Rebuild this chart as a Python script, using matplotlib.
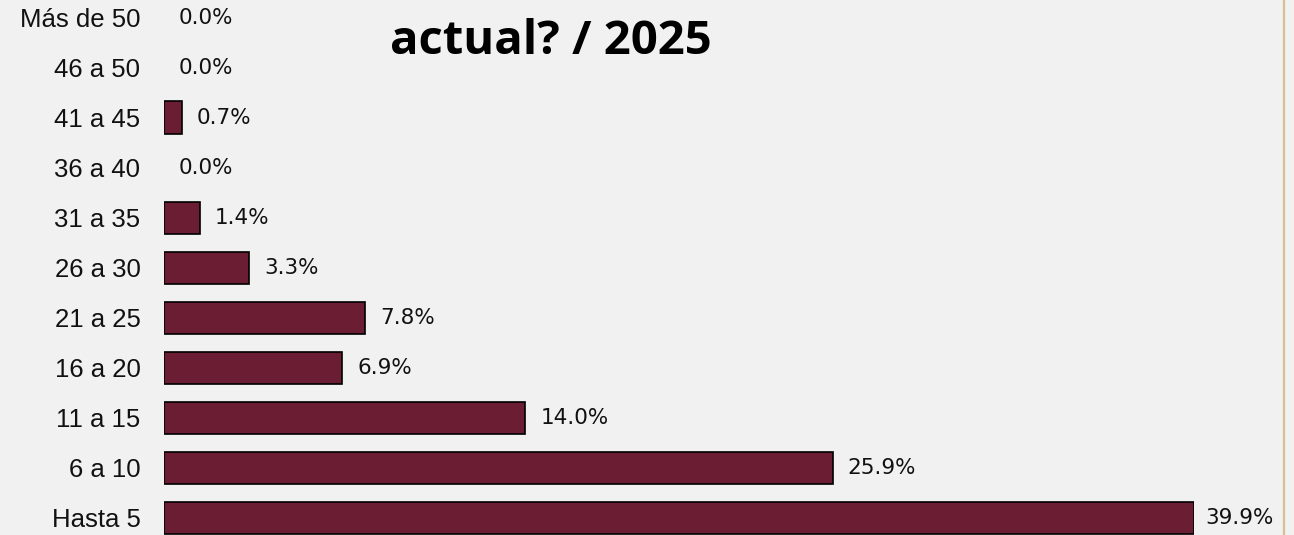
import matplotlib
matplotlib.use("Agg")
import matplotlib.pyplot as plt
from matplotlib.lines import Line2D
from matplotlib import font_manager as fm

categories = ["Hasta 5", "6 a 10", "11 a 15", "16 a 20", "21 a 25", "26 a 30",
              "31 a 35", "36 a 40", "41 a 45", "46 a 50", "Más de 50"]
values = [39.9, 25.9, 14.0, 6.9, 7.8, 3.3, 1.4, 0.0, 0.7, 0.0, 0.0]
title_text = "actual? / 2025"

val_fp = fm.FontProperties(family="DejaVu Sans", size=15.5)
title_fp = fm.FontProperties(family="Open Sans", size=34, weight="bold")

W, H = 1294, 535
fig = plt.figure(figsize=(W / 100, H / 100), dpi=100)
bg = "#f1f1f1"
fig.patch.set_facecolor(bg)

ax_left, ax_width = 164, 1030
row_h = 50
top_center = 17.5
n = len(categories)
ax_top = top_center - row_h / 2
ax_height = row_h * n
ax = fig.add_axes([ax_left / W, (H - ax_top - ax_height) / H, ax_width / W, ax_height / H])
ax.set_facecolor("none")

y = list(range(n))
lw = [1.2 if v > 0 else 0 for v in values]
ax.barh(y, values, height=0.64, color="#6a1d33", edgecolor="black", linewidth=lw)
ax.set_xlim(0, max(values))
ax.set_ylim(-0.5, n - 0.5)
ax.set_yticks(y)
ax.set_yticklabels(categories, fontfamily="Liberation Sans", fontsize=18.5, color="#111111")
ax.tick_params(axis="y", length=0, pad=17)
ax.set_xticks([])
for s in ax.spines.values():
    s.set_visible(False)

fig.canvas.draw()
renderer = fig.canvas.get_renderer()
right_limit = 1274
for yi, v in zip(y, values):
    t = ax.annotate(f"{v:.1f}%", xy=(v, yi), xytext=(15, 0), textcoords="offset pixels",
                    ha="left", va="center", annotation_clip=False,
                    fontproperties=val_fp, color="#111111")
    bb = t.get_window_extent(renderer)
    if bb.x1 > right_limit:
        t.remove()
        fig.text(right_limit / W, 1 - (top_center + (n - 1 - yi) * row_h) / H, f"{v:.1f}%",
                 ha="right", va="center", fontproperties=val_fp, color="#111111")

fig.text(551 / W, 1 - 54 / H, title_text, ha="center", va="baseline",
         fontproperties=title_fp, color="black")

fig.add_artist(Line2D([1283.5 / W, 1283.5 / W], [0, 1], color="#d8bd95", linewidth=1.6,
                      transform=fig.transFigure))

fig.savefig("out.png", dpi=100, facecolor=bg)
